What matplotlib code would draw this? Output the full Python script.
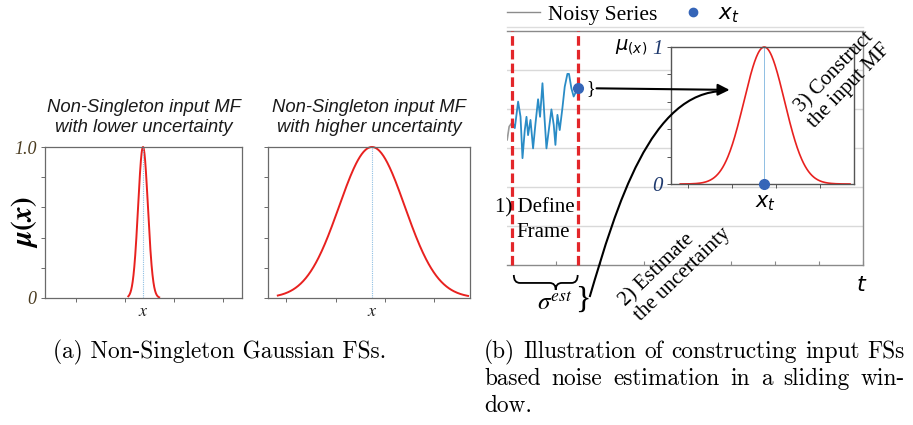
import numpy as np
import matplotlib
matplotlib.use("Agg")
import matplotlib.pyplot as plt
from matplotlib.lines import Line2D
from matplotlib.path import Path
from matplotlib.patches import PathPatch, FancyArrowPatch

# ---- data ----
# panel (a): two gaussian input MFs (center, sigma, drawn range)
a_titles = ["Non-Singleton input MF\nwith lower uncertainty",
            "Non-Singleton input MF\nwith higher uncertainty"]
a_centers = [0.0, 0.0]
a_sigmas = [0.10, 0.67]
a_ranges = [(-0.30, 0.33), (-1.92, 1.96)]
a_xlims = [(-2.00, 2.02), (-2.12, 2.00)]
a_xticks = [[-1.37, -0.37, 0.63, 1.63], [-1.76, -0.73, 0.27, 1.27]]

# panel (b): noisy series inside the sliding frame
noise_t = [0.016, 0.068, 0.143, 0.198, 0.243, 0.295, 0.334, 0.370, 0.425,
           0.484, 0.539, 0.598, 0.643, 0.698, 0.743, 0.789, 0.848, 0.902,
           0.955, 0.993, 1.039, 1.091, 1.152, 1.205, 1.266, 1.302, 1.357,
           1.409, 1.500]
noise_y = [3.67, 3.51, 4.19, 3.80, 2.74, 3.46, 3.80, 3.33, 3.72,
           2.99, 3.63, 4.25, 3.80, 4.66, 3.80, 2.99, 3.51, 3.99,
           3.59, 3.08, 3.85, 3.46, 4.02, 4.57, 4.90, 4.90, 4.53,
           4.32, 4.53]
grey_t = [-0.106, -0.061, 0.016]
grey_y = [3.21, 3.55, 3.67]
frame_t = [0.0, 1.5]
xt_value = (1.5, 4.53)

# inset: constructed MF around x_t
mf_center = 5.73
mf_sigma = 0.46
mf_range = (3.82, 7.68)

caption_a = "(a) Non-Singleton Gaussian FSs."
caption_b = ["(b) Illustration of constructing input FSs",
             "based noise estimation in a sliding win-",
             "dow."]

W, H = 913, 425
fig = plt.figure(figsize=(W / 100, H / 100), dpi=100)


def box(l, t, r, b):
    return [l / W, 1 - b / H, (r - l) / W, (b - t) / H]


# ---------------- panel (a) ----------------
a_boxes = [box(45, 147, 242, 298), box(268, 147, 470, 298)]
for i in range(2):
    ax = fig.add_axes(a_boxes[i])
    xs = np.linspace(a_ranges[i][0], a_ranges[i][1], 300)
    ys = np.exp(-0.5 * ((xs - a_centers[i]) / a_sigmas[i]) ** 2)
    ax.plot(xs, ys, color="#e8211f", lw=1.4, clip_on=False)
    ax.plot([a_centers[i]] * 2, [0, 1], color="#8fbfe3", lw=0.8, ls=(0, (1, 1)))
    ax.set_xlim(*a_xlims[i])
    ax.set_ylim(0, 1)
    ax.set_xticks(a_xticks[i])
    ax.set_xticklabels([])
    ax.set_yticks([0, 0.2, 0.4, 0.6, 0.8, 1.0])
    if i == 0:
        ax.set_yticklabels(["0", "", "", "", "", "1.0"], family="Liberation Serif",
                           style="italic", fontsize=13, color="#4a3b1f")
    else:
        ax.set_yticklabels([])
    for s in ax.spines.values():
        s.set_color("#6a6a6a")
        s.set_linewidth(0.9)
    ax.tick_params(length=3, width=0.7, color="#6a6a6a", pad=3)
    ax.text(0.5, 1.195, a_titles[i], transform=ax.transAxes, ha="center",
            va="center", family="Liberation Sans", style="italic",
            fontsize=13.3, linespacing=1.25, color="#1a1a1a")
    ax.text(a_centers[i], -0.085, "$x$", transform=ax.get_xaxis_transform(),
            ha="center", va="center", fontsize=13, math_fontfamily="stix",
            color="#222222")

fig.text(25 / W, 1 - 222 / H, r"$\boldsymbol{\mu(x)}$", rotation=90,
         ha="center", va="center", fontsize=21, math_fontfamily="stix")

# ---------------- panel (b) ----------------
ax = fig.add_axes(box(507, 31, 863, 265))
ax.set_xlim(-0.11, 8)
ax.set_ylim(0, 6)
for g in range(1, 6):
    ax.axhline(g, color="#d9d9d9", lw=1, zorder=0)
ax.plot(grey_t, grey_y, color="#999999", lw=1.2)
ax.plot(noise_t, noise_y, color="#2a8cc6", lw=1.3)
for ft in frame_t:
    ax.plot([ft, ft], [0, 6], color="#e3262a", lw=2.3, dashes=(3, 1.3),
            clip_on=False, zorder=3)
ax.plot(*xt_value, "o", color="#3565b8", ms=7, zorder=4, clip_on=False)
ax.spines["left"].set_visible(False)
for k in ["top", "right", "bottom"]:
    ax.spines[k].set_color("#8a8a8a")
    ax.spines[k].set_linewidth(1.0)
ax.set_xticks(range(0, 9))
ax.set_xticklabels([])
ax.set_yticks([])
ax.tick_params(axis="x", direction="in", length=3, color="#8a8a8a")

handles = [Line2D([], [], color="#8c8c8c", lw=1),
           Line2D([], [], ls="", marker="o", color="#3565b8", ms=6)]
leg = ax.legend(handles, ["Noisy Series", "$x_t$"], loc="lower left",
                bbox_to_anchor=(0.0, 1.025), ncol=2, frameon=False,
                prop={"family": "Liberation Serif", "size": 15.5},
                handlelength=1.55, handletextpad=0.35, columnspacing=0.9,
                borderpad=0, borderaxespad=0)
ax.plot([0, 1], [1.017, 1.017], transform=ax.transAxes, clip_on=False,
        color="#dddddd", lw=1)

# inset MF
axi = fig.add_axes(box(671, 47, 854, 184))
xs = np.linspace(mf_range[0], mf_range[1], 300)
axi.plot(xs, np.exp(-0.5 * ((xs - mf_center) / mf_sigma) ** 2),
         color="#e8211f", lw=1.2, clip_on=False)
axi.plot([mf_center] * 2, [0, 1], color="#8fbfe3", lw=0.7)
axi.plot(mf_center, 0, "o", color="#3565b8", ms=7, clip_on=False, zorder=5)
axi.set_xlim(3.61, 7.77)
axi.set_ylim(0, 1)
axi.set_xticks([4, 5, 6, 7])
axi.set_xticklabels([])
axi.set_yticks([0, 0.2, 0.4, 0.6, 0.8, 1.0])
axi.set_yticklabels(["0", "", "", "", "", "1"], family="Liberation Serif",
                    style="italic", fontsize=15, color="#1f3a6e")
for s in axi.spines.values():
    s.set_color("#555555")
    s.set_linewidth(1.0)
axi.tick_params(length=3, width=0.7, color="#555555", pad=3)
axi.text(mf_center + 0.04, -0.14, "$x_t$", ha="center", va="center",
         fontsize=15, clip_on=False)
axi.text(2.70, 1.0, r"$\mu_{(x)}$", ha="center", va="center", fontsize=14,
         clip_on=False)

# annotations (in panel b data coordinates, drawn on top)
tr = ax.transData
serif = "Liberation Serif"
fig.text(-0.386, 1.46, "1) Define", transform=tr, ha="left", va="center",
         family=serif, fontsize=15)
fig.text(0.114, 0.846, "Frame", transform=tr, ha="left", va="center",
         family=serif, fontsize=15)
fig.text(3.72, -0.06, "2) Estimate\nthe uncertainty", transform=tr,
         ha="center", va="center", rotation=44, rotation_mode="anchor",
         multialignment="left", family=serif, fontsize=15, linespacing=1.1)
fig.text(7.52, 4.77, "3) Construct\nthe input MF", transform=tr,
         ha="center", va="center", rotation=46, rotation_mode="anchor",
         family=serif, fontsize=15, linespacing=1.05)
fig.text(7.98, -0.51, "$t$", transform=tr, ha="center", va="center",
         fontsize=16)
fig.text(0.98, -0.97, r"$\sigma^{est}$", transform=tr, ha="center",
         va="center", fontsize=18, math_fontfamily="stix")
fig.text(1.80, 4.51, "}", transform=tr, ha="center", va="center",
         family=serif, fontsize=13)
fig.text(1.62, -0.9, "}", transform=tr, ha="center", va="center",
         family=serif, fontsize=23)

# horizontal brace under the frame
bx0, bx1, bxm = 0.045, 1.5, 1.0
by0, by1, bytip = -0.256, -0.46, -0.64
verts = [(bx0, by0), (bx0, by1), (bx0 + 0.14, by1), (bxm - 0.14, by1),
         (bxm, by1), (bxm, bytip),
         (bxm, bytip), (bxm, by1), (bxm + 0.14, by1), (bx1 - 0.14, by1),
         (bx1, by1), (bx1, by0)]
codes = [Path.MOVETO, Path.CURVE3, Path.CURVE3, Path.LINETO,
         Path.CURVE3, Path.CURVE3,
         Path.MOVETO, Path.CURVE3, Path.CURVE3, Path.LINETO,
         Path.CURVE3, Path.CURVE3]
fig.add_artist(PathPatch(Path(verts, codes), transform=tr, fill=False,
                         lw=1.3, color="black"))

# curve from sigma brace to the MF and straight arrow from x_t
cverts = [(1.773, -0.82), (2.386, 1.51), (3.16, 4.46), (4.84, 4.46)]
ccodes = [Path.MOVETO, Path.CURVE4, Path.CURVE4, Path.CURVE4]
fig.add_artist(PathPatch(Path(cverts, ccodes), transform=tr, fill=False,
                         lw=1.5, color="black"))
fig.add_artist(FancyArrowPatch((1.93, 4.53), (4.96, 4.49), transform=tr,
                               arrowstyle="-|>,head_length=7,head_width=3.5",
                               lw=1.5, color="black", shrinkA=0, shrinkB=0))

# captions
cap_size = 16.8
fig.text(220 / W, 1 - 352 / H, caption_a, ha="center", va="center",
         family="cmr10", fontsize=cap_size)

# (b) caption: justified lines like the LaTeX source
renderer = fig.canvas.get_renderer()
cap_left, cap_right = 484, 905
for j, line in enumerate(caption_b):
    y = 1 - (352 + 27 * j) / H
    words = line.split(" ")
    if j == len(caption_b) - 1 or len(words) == 1:
        fig.text(cap_left / W, y, line, ha="left", va="center",
                 family="cmr10", fontsize=cap_size)
        continue
    arts = [fig.text(0, y, w, ha="left", va="center", family="cmr10",
                     fontsize=cap_size) for w in words]
    widths = [a.get_window_extent(renderer).width for a in arts]
    gap = (cap_right - cap_left - sum(widths)) / (len(words) - 1)
    x = cap_left
    for a, w in zip(arts, widths):
        a.set_x(x / W)
        x += w + gap

fig.savefig("out.png", dpi=100)
